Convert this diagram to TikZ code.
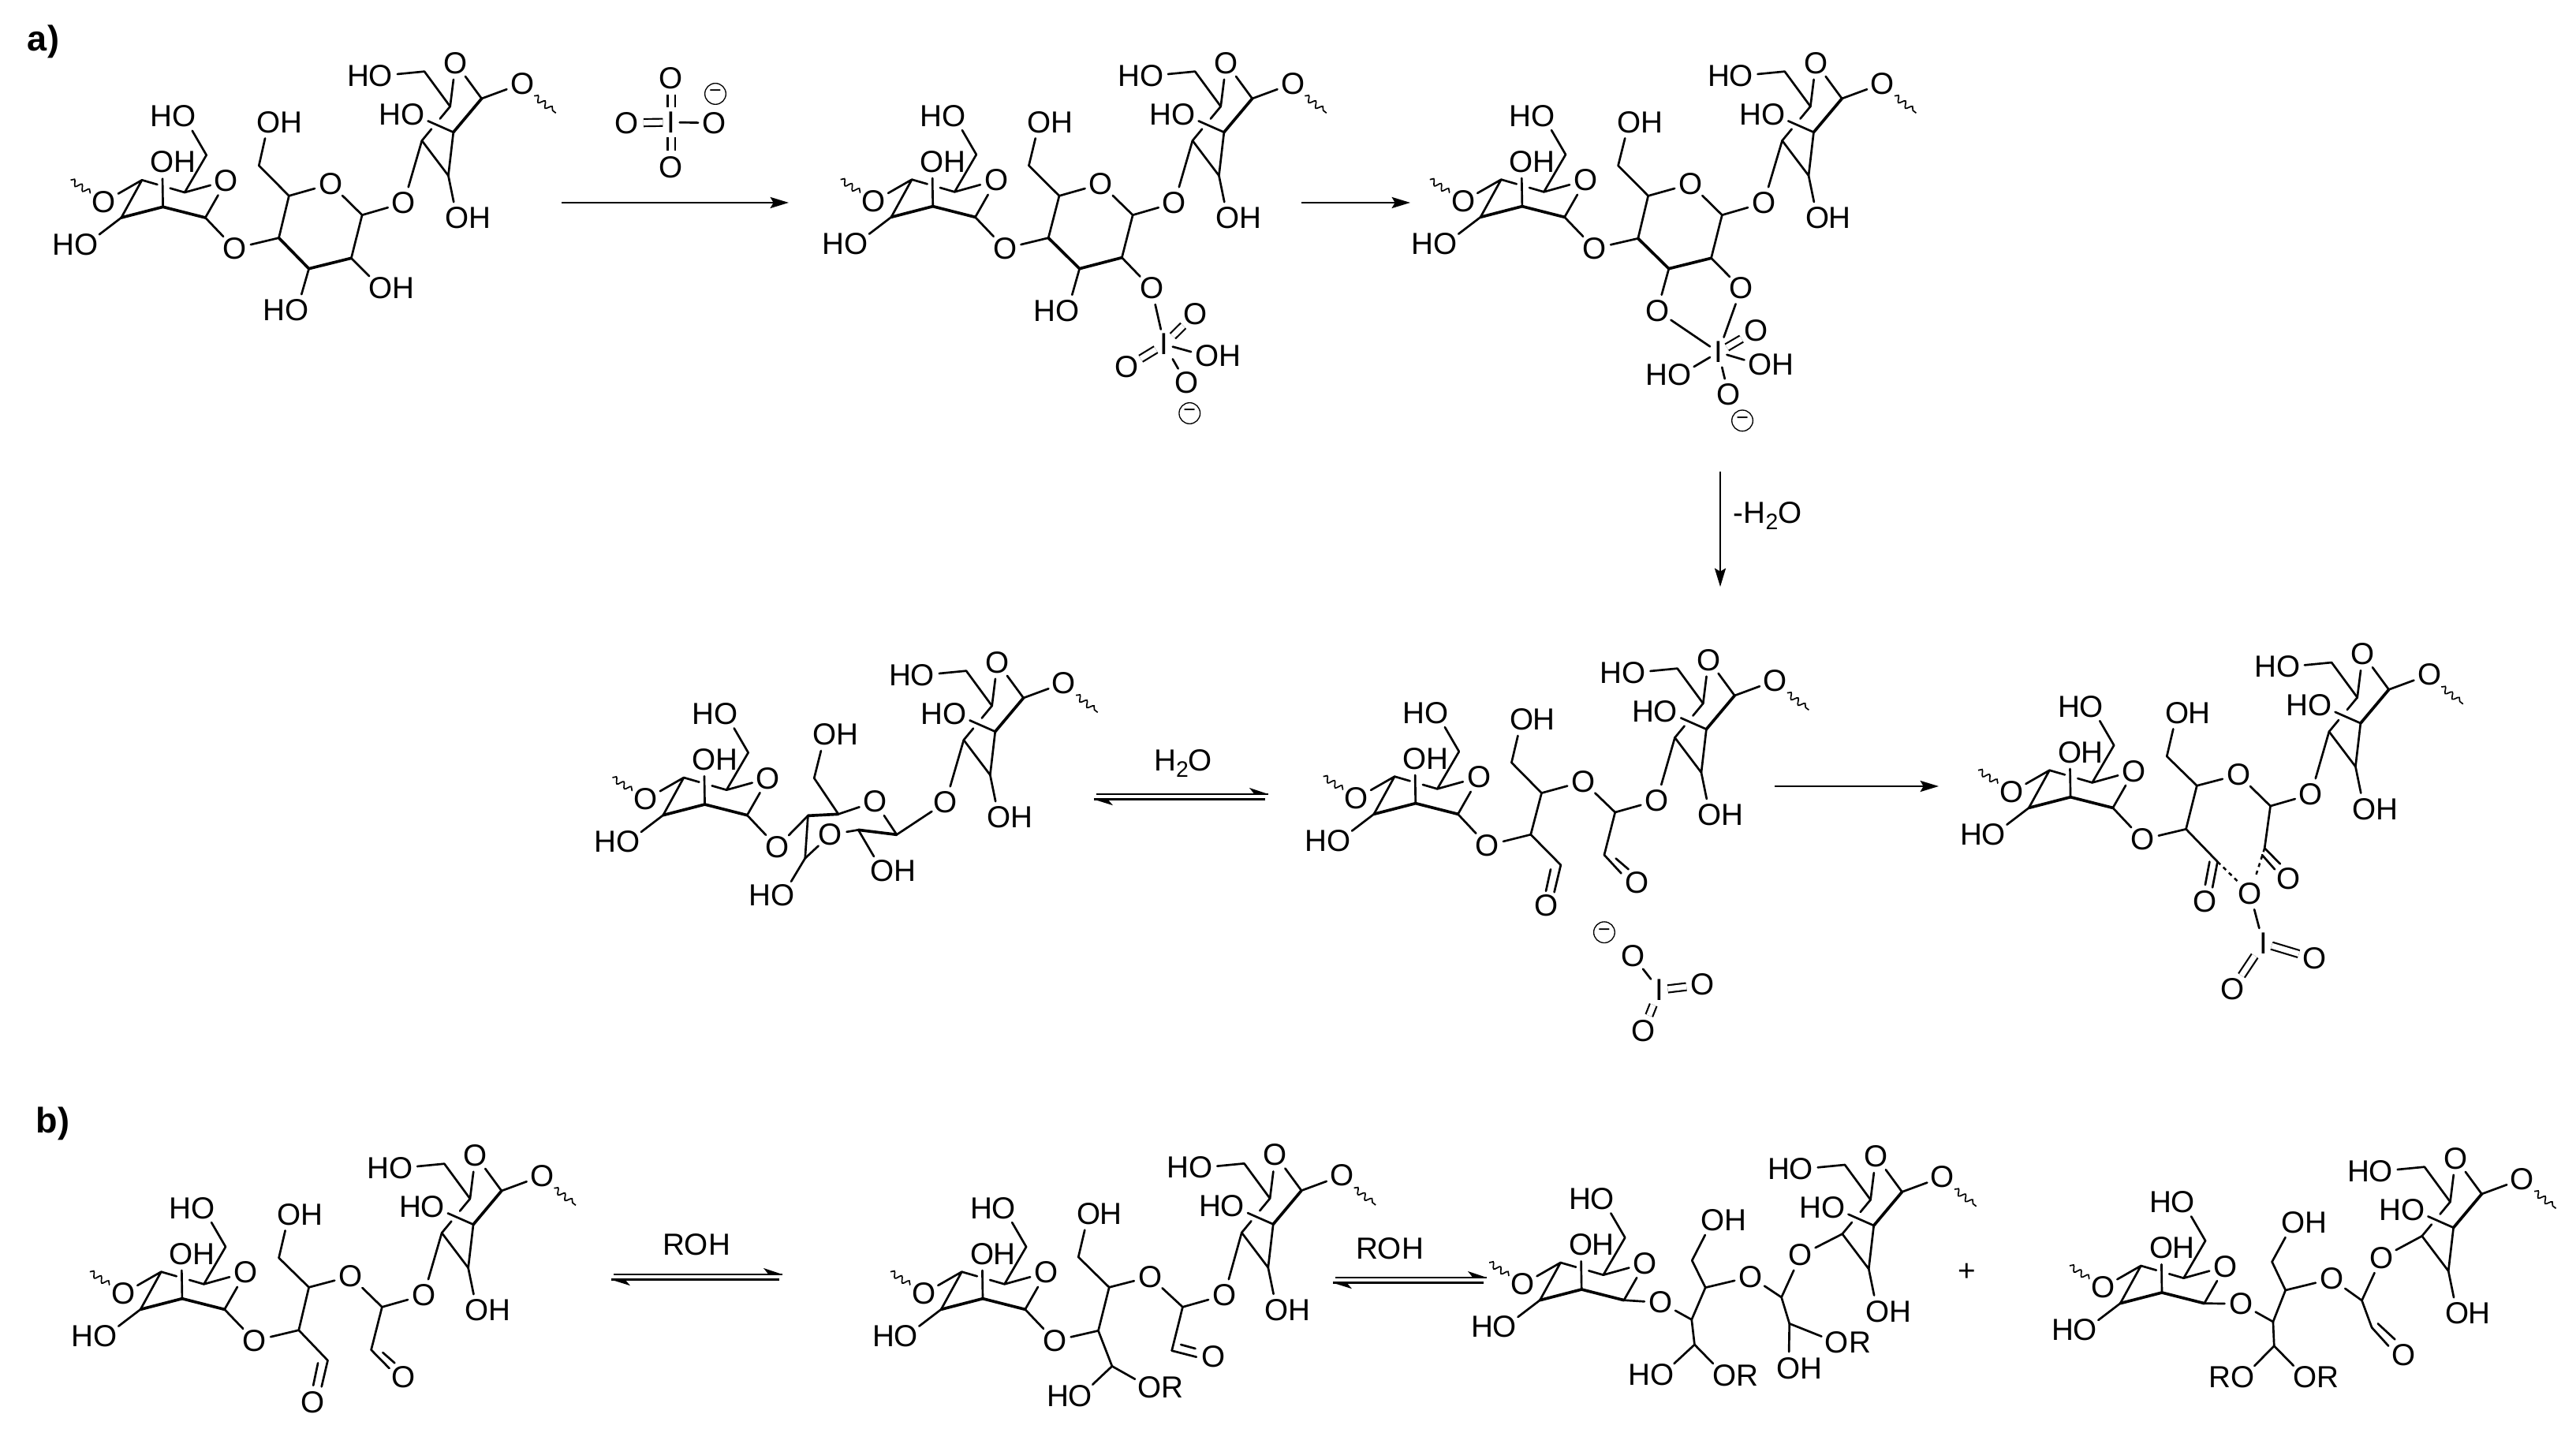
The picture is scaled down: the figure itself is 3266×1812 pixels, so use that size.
\documentclass[tikz,border=0pt]{standalone}
\usepackage{fontspec}
\setmainfont{Liberation Sans}
\usetikzlibrary{calc,arrows.meta,decorations.pathmorphing}
\newcommand\ph[1]{\vphantom{O}#1}
\tikzset{
  txt/.style={font=\fontsize{11.6}{11.6}\selectfont,text=black},
  atm/.style={txt,circle,inner sep=0pt},
  hatm/.style={txt,inner sep=0pt},
  iatm/.style={txt,rectangle,inner sep=0pt,minimum width=6pt,minimum height=11pt},
  minusc/.style={circle,draw,line width=0.4pt,inner sep=0pt,minimum size=8pt,font=\fontsize{8}{8}\selectfont},
  bond/.style={line width=0.8pt,line cap=round,line join=round},
  thk/.style={bond,line width=1.1pt},
  dbl/.style={double,double distance=2.1pt,line width=0.65pt},
  dots/.style={line width=0.75pt,dash pattern=on 1.5pt off 1.5pt},
  wavy/.style={line width=0.5pt,decorate,decoration={snake,amplitude=1.1pt,segment length=3.4pt,pre length=0pt,post length=0pt}},
  rxn/.style={line width=0.8pt,-{Stealth[length=7pt,width=4.2pt,inset=1.2pt]}},
  crop/.style 2 args={shift={(#1,#2)},x=0.13774pt,y=-0.1pt},
  lab/.style={font=\fontsize{13.5}{13.5}\selectfont\bfseries,inner sep=0pt}
}
\newcommand\bd[1]{\draw[bond] #1;}
\newcommand\tk[1]{\draw[thk] #1;}
\newcommand\db[2]{\draw[dbl] (#1) -- (#2);}
\newcommand\atO[2]{\node[atm] (#1) at (#2) {O};}
\newcommand\atI[2]{\node[iatm] (#1) at (#2) {\ph{I}};}
\newcommand\atHO[2]{\node[atm] (#1) at (#2) {O};\node[hatm,anchor=center] (#1x) at ([xshift=-8.6pt]#1.center) {\ph{H}};}
\newcommand\atOH[2]{\node[atm] (#1) at (#2) {O};\node[hatm,anchor=center] (#1x) at ([xshift=8.6pt]#1.center) {\ph{H}};}
\newcommand\atOR[2]{\node[atm] (#1) at (#2) {O};\node[hatm,anchor=center] (#1x) at ([xshift=8.8pt]#1.center) {\ph{R}};}
\newcommand\atRO[2]{\node[atm] (#1) at (#2) {O};\node[hatm,anchor=center] (#1x) at ([xshift=-8.8pt]#1.center) {\ph{R}};}
\newcommand\atM[2]{\node[minusc] (#1) at (#2) {−};}
\newcommand\leftsugar[3]{%
\begin{scope}[shift={(#2,#3)},x=0.13774pt,y=-0.1pt]
\coordinate (#1Cc) at (0,0);
\coordinate (#1Ctl) at (-58,-102);
\coordinate (#1Cbl) at (-115,41);
\coordinate (#1Cr) at (117,41);
\coordinate (#1Cu) at (60,-55);
\coordinate (#1Ch) at (120,-197);
\coordinate (#1wa) at (-255,-102);
\coordinate (#1wb) at (-200,-52);
\atO{#1Ow}{-163,-19}
\atO{#1Or}{175,-99}
\atHO{#1Ot}{58,-344}
\atOH{#1Oc}{-2,-170}
\atHO{#1Ob}{-212,143}
\draw[wavy] (#1wa) -- (#1wb);
\bd{(#1Ow) -- (#1Ctl) -- (#1Cbl)}
\tk{(#1Cbl) -- (#1Cc) -- (#1Cr)}
\bd{(#1Cr) -- (#1Or)}
\bd{(#1Cc) -- (#1Oc)}
\bd{(#1Ctl) -- ($(#1Ctl)!0.36!(#1Cu)$)}
\bd{($(#1Ctl)!0.66!(#1Cu)$) -- (#1Cu)}
\bd{(#1Or) -- (#1Cu) -- (#1Ch) -- (#1Ot)}
\bd{(#1Cbl) -- (#1Ob)}
\end{scope}}
\newcommand\rightsugar[3]{%
\begin{scope}[shift={(#2,#3)},x=0.13774pt,y=-0.1pt]
\coordinate (#1Rc) at (0,0);
\coordinate (#1Ra) at (-87,32);
\coordinate (#1Rb) at (-14,165);
\coordinate (#1Rd) at (78,-128);
\coordinate (#1Re) at (-9,-98);
\coordinate (#1Rh) at (-80,-231);
\coordinate (#1Rwa) at (223,-138);
\coordinate (#1Rwb) at (283,-73);
\atO{#1Rr}{6,-263}
\atO{#1Rt}{190,-185}
\atHO{#1Ru}{-200,-215}
\atHO{#1Rm}{-112,-68}
\atOH{#1Rl}{10,327}
\draw[wavy] (#1Rwa) -- (#1Rwb);
\bd{(#1Ra) -- (#1Rb) -- (#1Rc)}
\tk{(#1Rc) -- (#1Rd)}
\bd{(#1Rd) -- (#1Rr)}
\bd{(#1Re) -- (#1Rr)}
\bd{(#1Re) -- (#1Rh) -- (#1Ru)}
\bd{(#1Rc) -- (#1Rm)}
\bd{(#1Rb) -- (#1Rl)}
\bd{(#1Rd) -- (#1Rt)}
\bd{(#1Re) -- ($(#1Re)!0.36!(#1Ra)$)}
\bd{($(#1Re)!0.66!(#1Ra)$) -- (#1Ra)}
\end{scope}}
\newcommand\equil[4]{%
\coordinate (#1ta) at (#2+3,#4);
\coordinate (#1tb) at (#3,#4);
\coordinate (#1la) at (#2,#4+6.7);
\coordinate (#1lb) at (#3-4,#4+6.7);
\draw[line width=0.6pt] (#1ta) -- (#1tb);
\draw[line width=0.9pt] (#1la) -- (#1lb);
\fill (#1tb) -- ($(#1tb)+(-24,-8)$) -- ($(#1tb)+(-18,-0.5)$) -- cycle;
\fill (#1la) -- ($(#1la)+(24,7.5)$) -- ($(#1la)+(18,0.5)$) -- cycle;}
\begin{document}
\begin{tikzpicture}[x=0.3pt,y=-0.3pt]
\useasboundingbox (0,0) rectangle (3266,1812);
% labels
\node[lab] (la) at (55,53) {a)};
\node[lab] (lb) at (67,1425) {b)};
% arrows
\coordinate (A1s) at (712,257); \coordinate (A1e) at (1000,257);
\draw[rxn] (A1s) -- (A1e);
\coordinate (A2s) at (1650,257); \coordinate (A2e) at (1788,257);
\draw[rxn] (A2s) -- (A2e);
\coordinate (A3s) at (2181,598); \coordinate (A3e) at (2181,744);
\draw[rxn] (A3s) -- (A3e);
\coordinate (A4s) at (2250,997); \coordinate (A4e) at (2458,997);
\draw[rxn] (A4s) -- (A4e);
\node[txt,inner sep=0pt] (tH2Oa) at (2241,654) {-H\raisebox{-0.2em}{\fontsize{8.5}{8.5}\selectfont 2}O};
\node[txt,inner sep=0pt] (tH2Ob) at (1500,968) {H\raisebox{-0.2em}{\fontsize{8.5}{8.5}\selectfont 2}O};
\equil{E1}{1387}{1608}{1007}
\node[txt,inner sep=0pt] (tROHa) at (883,1578) {ROH};
\equil{E2}{775}{992}{1616}
\node[txt,inner sep=0pt] (tROHb) at (1762,1583) {ROH};
\equil{E3}{1690}{1885}{1620}
\node[txt,inner sep=0pt] (tplus) at (2494,1613) {+};
% periodate
\node[iatm] (pI) at (851,155) {\ph{I}};
\node[atm] (pT) at (851,99) {O};
\node[atm] (pL) at (795,156) {O};
\node[atm] (pR) at (906,156) {O};
\node[atm] (pB) at (851,212) {O};
\node[minusc] (pM) at (907,119) {−};
\db{pI}{pT} \db{pI}{pL} \db{pI}{pB} \bd{(pI) -- (pR)}
% molecule 1
\begin{scope}[crop={0}{0}]
\leftsugar{a}{450}{787}
\rightsugar{a}{1252}{503}
\atO{aOB}{648,945} \atO{aOR}{913,700} \atO{aOG}{1115,772}
\coordinate (aC4) at (770,905); \coordinate (aC5) at (798,745);
\coordinate (aC1) at (1000,818); \coordinate (aC2) at (970,982);
\coordinate (aC3) at (853,1022); \coordinate (aCH) at (715,630);
\atOH{aO6}{742,465} \atOH{aO2}{1052,1095} \atHO{aO3}{820,1180}
\bd{(aCr) -- (aOB) -- (aC4)}
\bd{(aC4) -- (aC5) -- (aOR)}
\bd{(aOR) -- (aC1) -- (aC2)}
\tk{(aC2) -- (aC3) -- (aC4)}
\bd{(aC1) -- (aOG)} \bd{(aOG) -- (aRa)}
\bd{(aC5) -- (aCH) -- (aO6)}
\bd{(aC2) -- (aO2)} \bd{(aC3) -- (aO3)}
\end{scope}
% molecule 2
\begin{scope}[crop={1000}{50}]
\leftsugar{b}{398}{635}
\rightsugar{b}{1202}{353}
\atO{bOB}{597,795} \atO{bOR}{862,550} \atO{bOG}{1065,622}
\coordinate (bC4) at (717,755); \coordinate (bC5) at (747,595);
\coordinate (bC1) at (950,668); \coordinate (bC2) at (920,830);
\coordinate (bC3) at (803,872); \coordinate (bCH) at (663,480);
\atOH{bO6}{692,315} \atHO{bO3}{770,1032} \atO{bO2}{1002,947}
\atI{bI}{1037,1160} \atO{bIa}{1122,1045} \atOH{bIb}{1155,1205}
\atO{bIc}{1098,1307} \atO{bId}{933,1247} \atM{bM}{1107,1422}
\bd{(bCr) -- (bOB) -- (bC4)}
\bd{(bC4) -- (bC5) -- (bOR)}
\bd{(bOR) -- (bC1) -- (bC2)}
\tk{(bC2) -- (bC3) -- (bC4)}
\bd{(bC1) -- (bOG)} \bd{(bOG) -- (bRa)}
\bd{(bC5) -- (bCH) -- (bO6)}
\bd{(bC2) -- (bO2)} \bd{(bC3) -- (bO3)}
\bd{(bO2) -- (bI)} \bd{(bI) -- (bIb)} \bd{(bI) -- (bIc)}
\db{bI}{bIa} \db{bI}{bId}
\end{scope}
% molecule 3
\begin{scope}[crop={1760}{50}]
\leftsugar{c}{370}{635}
\rightsugar{c}{1175}{353}
\atO{cOB}{570,795} \atO{cOR}{835,550} \atO{cOG}{1037,622}
\coordinate (cC4) at (690,757); \coordinate (cC5) at (718,595);
\coordinate (cC1) at (922,668); \coordinate (cC2) at (892,832);
\coordinate (cC3) at (775,872); \coordinate (cCH) at (635,480);
\atOH{cO6}{665,315} \atO{cO3}{743,1032} \atO{cO2}{975,947}
\atI{cI}{912,1190} \atO{cIa}{1015,1107} \atOH{cIb}{1027,1237}
\atHO{cIe}{805,1277} \atO{cIc}{940,1352} \atM{cM}{978,1450}
\bd{(cCr) -- (cOB) -- (cC4)}
\bd{(cC4) -- (cC5) -- (cOR)}
\bd{(cOR) -- (cC1) -- (cC2)}
\tk{(cC2) -- (cC3) -- (cC4)}
\bd{(cC1) -- (cOG)} \bd{(cOG) -- (cRa)}
\bd{(cC5) -- (cCH) -- (cO6)}
\bd{(cC2) -- (cO2)} \bd{(cC3) -- (cO3)}
\bd{(cO2) -- (cI)} \bd{(cO3) -- (cI)} \bd{(cI) -- (cIb)} \bd{(cI) -- (cIe)} \bd{(cI) -- (cIc)}
\db{cI}{cIa}
\end{scope}
% molecule 4
\begin{scope}[crop={720}{800}]
\leftsugar{d}{378}{660}
\rightsugar{d}{1180}{383}
\atO{dOB}{578,822} \atO{dOR}{848,650} \atO{dOG}{1043,652} \atO{dOL}{725,775}
\coordinate (dC4) at (663,703); \coordinate (dC5) at (747,697);
\coordinate (dC1) at (908,775); \coordinate (dC2) at (802,757);
\coordinate (dC3) at (655,865); \coordinate (dCH) at (680,560);
\atOH{dO6}{710,395} \atOH{dO2}{868,912} \atHO{dO3}{593,1007}
\bd{(dCr) -- (dOB) -- (dC4)}
\tk{(dC4) -- (dC5)}
\bd{(dC5) -- (dOR) -- (dC1)}
\tk{(dC1) -- (dC2)}
\bd{(dC2) -- (dOL) -- (dC3)}
\bd{(dC4) -- (dC3)}
\bd{(dC1) -- (dOG)} \bd{(dOG) -- (dRa)}
\bd{(dC5) -- (dCH) -- (dO6)}
\bd{(dC2) -- (dO2)} \bd{(dC3) -- (dO3)}
\end{scope}
% molecule 5
\begin{scope}[crop={1640}{800},y=-0.1033pt]
\leftsugar{e}{337}{635}
\rightsugar{e}{1140}{362}
\atO{eOB}{535,790} \atO{eOR}{800,555} \atO{eOG}{1003,625}
\coordinate (eC4) at (655,750); \coordinate (eC5) at (685,597);
\coordinate (eC1) at (888,668); \coordinate (eCa) at (858,825);
\coordinate (eCb) at (738,862); \coordinate (eCH) at (602,485);
\atOH{eO6}{630,327} \atO{eOa}{948,927} \atO{eOb}{697,1012}
\bd{(eCr) -- (eOB) -- (eC4)}
\bd{(eC4) -- (eC5) -- (eOR)}
\bd{(eOR) -- (eC1) -- (eCa)}
\bd{(eC4) -- (eCb)}
\bd{(eC1) -- (eOG)} \bd{(eOG) -- (eRa)}
\bd{(eC5) -- (eCH) -- (eO6)}
\bd{(eCb) -- (720,962)} \bd{(710,878) -- (697,958)}
\bd{(eCa) -- (905,893)} \bd{(890,838) -- (925,878)}
\atM{eM}{858,1110} \atO{eIo}{937,1197} \atI{eI}{1010,1322}
\atO{eIa}{1130,1303} \atO{eIb}{965,1473}
\bd{(eIo) -- (eI)} \db{eI}{eIa} \db{eI}{eIb}
\end{scope}
% molecule 6
\begin{scope}[crop={2480}{800},y=-0.1033pt]
\leftsugar{f}{316}{612}
\rightsugar{f}{1117}{340}
\atO{fOB}{515,768} \atO{fOR}{780,530} \atO{fOG}{980,602}
\coordinate (fC4) at (635,730); \coordinate (fC5) at (665,570);
\coordinate (fC1) at (868,645); \coordinate (fCa) at (852,800);
\coordinate (fCb) at (722,850); \coordinate (fCH) at (582,462);
\atOH{fO6}{610,302} \atO{fOa}{918,912} \atO{fOb}{687,998} \atO{fOc}{812,967}
\atI{fI}{848,1150} \atO{fIa}{990,1207} \atO{fIb}{763,1320}
\bd{(fCr) -- (fOB) -- (fC4)}
\bd{(fC4) -- (fC5) -- (fOR)}
\bd{(fOR) -- (fC1) -- (fCa)}
\bd{(fC4) -- (fCb)}
\bd{(fC1) -- (fOG)} \bd{(fOG) -- (fRa)}
\bd{(fC5) -- (fCH) -- (fO6)}
\bd{(fCb) -- (708,945)} \bd{(700,850) -- (688,935)}
\bd{(fCa) -- (895,858)} \bd{(845,825) -- (880,878)}
\draw[dots] (fCb) -- (fOc);
\draw[dots] (fCa) -- (fOc);
\bd{(fOc) -- (fI)} \db{fI}{fIa} \db{fI}{fIb}
\end{scope}
% molecule 7
\begin{scope}[crop={0}{1400}]
\leftsugar{g}{503}{740}
\rightsugar{g}{1307}{458}
\atO{gOB}{703,900} \atO{gOR}{968,655} \atO{gOG}{1170,727}
\coordinate (gC4) at (825,860); \coordinate (gC5) at (853,697);
\coordinate (gC1) at (1055,772); \coordinate (gCa) at (1025,935);
\coordinate (gCb) at (905,975); \coordinate (gCH) at (770,585);
\atOH{gO6}{798,420} \atO{gOa}{1115,1040} \atO{gOb}{863,1133}
\bd{(gCr) -- (gOB) -- (gC4)}
\bd{(gC4) -- (gC5) -- (gOR)}
\bd{(gOR) -- (gC1) -- (gCa)}
\bd{(gC4) -- (gCb)}
\bd{(gC1) -- (gOG)} \bd{(gOG) -- (gRa)}
\bd{(gC5) -- (gCH) -- (gO6)}
\bd{(gCb) -- (888,1075)} \bd{(878,985) -- (865,1070)}
\bd{(gCa) -- (1075,1005)} \bd{(1057,945) -- (1090,985)}
\end{scope}
% molecule 8
\begin{scope}[crop={1100}{1430}]
\leftsugar{h}{318}{650}
\rightsugar{h}{1120}{367}
\atO{hOB}{517,810} \atO{hOR}{780,567} \atO{hOG}{985,637}
\coordinate (hC4) at (637,772); \coordinate (hC5) at (667,607);
\coordinate (hC1) at (870,682); \coordinate (hCa) at (840,848);
\coordinate (hCb) at (675,907); \coordinate (hCH) at (582,492);
\atOH{hO6}{610,328} \atO{hOa}{955,872} \atHO{hOc}{588,1020} \atOR{hOd}{778,987}
\bd{(hCr) -- (hOB) -- (hC4)}
\bd{(hC4) -- (hC5) -- (hOR)}
\bd{(hOR) -- (hC1) -- (hCa)}
\bd{(hC4) -- (hCb)}
\bd{(hC1) -- (hOG)} \bd{(hOG) -- (hRa)}
\bd{(hC5) -- (hCH) -- (hO6)}
\bd{(hCa) -- (908,872)} \bd{(865,825) -- (905,840)}
\bd{(hCb) -- (hOc)} \bd{(hCb) -- (hOd)}
\end{scope}
% molecule 9
\begin{scope}[crop={1850}{1430}]
\leftsugar{i}{338}{615}
\rightsugar{i}{1145}{372}
\atO{iOB}{557,665} \atO{iOR}{805,567} \atO{iOG}{943,485}
\coordinate (iC4) at (642,730); \coordinate (iC5) at (680,608);
\coordinate (iC1) at (890,645); \coordinate (iCa) at (912,745);
\coordinate (iCb) at (650,825); \coordinate (iCH) at (643,505);
\atOH{iO6}{700,352} \atHO{iOc}{560,940} \atOR{iOd}{733,942}
\atOR{iOe}{1043,817} \atOH{iOf}{910,915}
\bd{(iCr) -- (iOB) -- (iC4)}
\bd{(iC4) -- (iC5) -- (iOR)}
\bd{(iOR) -- (iC1) -- (iCa)}
\bd{(iC4) -- (iCb)}
\bd{(iC1) -- (iOG)} \bd{(iOG) -- (iRa)}
\bd{(iC5) -- (iCH) -- (iO6)}
\bd{(iCb) -- (iOc)} \bd{(iCb) -- (iOd)}
\bd{(iCa) -- (iOe)} \bd{(iCa) -- (iOf)}
\end{scope}
% molecule 10
\begin{scope}[shift={(2560,1430)},x=0.13507pt,y=-0.1pt]
\leftsugar{j}{402}{627}
\rightsugar{j}{1223}{380}
\atO{jOB}{625,670} \atO{jOR}{880,575} \atO{jOG}{1020,495}
\coordinate (jC4) at (715,738); \coordinate (jC5) at (750,618);
\coordinate (jC1) at (965,657); \coordinate (jCa) at (993,760);
\coordinate (jCb) at (718,830); \coordinate (jCH) at (712,510);
\atOH{jO6}{772,362} \atO{jOa}{1082,865} \atRO{jOc}{630,950} \atOR{jOd}{805,950}
\bd{(jCr) -- (jOB) -- (jC4)}
\bd{(jC4) -- (jC5) -- (jOR)}
\bd{(jOR) -- (jC1) -- (jCa)}
\bd{(jC4) -- (jCb)}
\bd{(jC1) -- (jOG)} \bd{(jOG) -- (jRa)}
\bd{(jC5) -- (jCH) -- (jO6)}
\bd{(jCa) -- (1040,830)} \bd{(1010,745) -- (1058,805)}
\bd{(jCb) -- (jOc)} \bd{(jCb) -- (jOd)}
\end{scope}
\end{tikzpicture}
\end{document}
